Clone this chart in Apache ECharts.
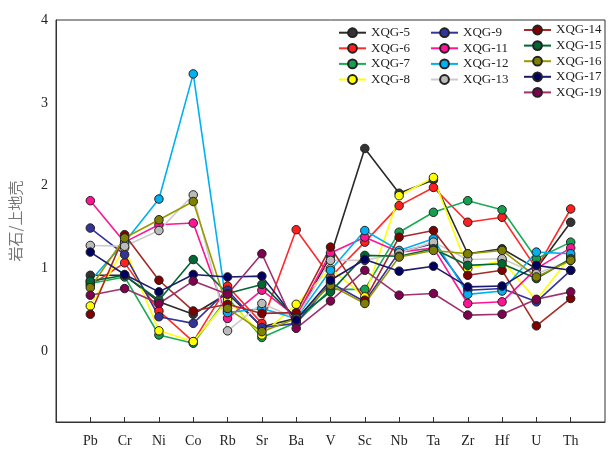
<!DOCTYPE html>
<html><head><meta charset="utf-8">
<script src="https://cdn.jsdelivr.net/npm/echarts@6/dist/echarts.min.js"></script>
<style>html,body{margin:0;padding:0;background:#fff}#c{width:608px;height:451px}</style>
</head><body><div id="c"></div>
<script>
const elements = ['Pb','Cr','Ni','Co','Rb','Sr','Ba','V','Sc','Nb','Ta','Zr','Hf','U','Th'];
const yTicks = [0,1,2,3,4];
const XQG5  = [0.92,0.92,0.60,0.45,0.70,0.30,0.40,1.15,2.45,1.91,2.07,1.18,1.24,1.00,1.56];
const XQG6  = [0.80,1.07,0.49,0.12,0.79,0.34,1.47,0.90,1.32,1.76,1.98,1.56,1.62,1.00,1.72];
const XQG7  = [0.82,0.90,0.20,0.10,0.65,0.17,0.35,0.75,0.75,1.44,1.68,1.82,1.71,1.12,1.32];
const XQG8  = [0.55,1.25,0.25,0.12,0.62,0.20,0.57,1.00,0.66,1.88,2.10,1.00,1.10,0.62,1.15];
const XQG9  = [1.49,1.17,0.42,0.34,0.74,0.29,0.34,0.83,0.60,1.20,1.30,0.74,0.76,0.60,0.98];
const XQG11 = [1.82,1.32,1.53,1.55,0.40,0.74,0.42,1.19,1.38,1.20,1.25,0.58,0.60,1.00,1.25];
const XQG12 = [0.85,1.32,1.84,3.35,0.47,0.52,0.40,0.98,1.46,1.22,1.36,0.69,0.73,1.20,1.18];
const XQG13 = [1.28,1.27,1.46,1.89,0.25,0.58,0.40,1.10,1.10,1.19,1.32,1.11,1.12,0.94,1.10];
const XQG14 = [0.45,1.41,0.86,0.49,0.57,0.46,0.47,1.26,0.62,1.38,1.46,0.92,0.98,0.31,0.64];
const XQG15 = [0.85,0.92,0.62,1.11,0.70,0.81,0.40,0.72,1.16,1.15,1.24,1.04,1.06,0.88,1.12];
const XQG16 = [0.77,1.37,1.59,1.81,0.52,0.24,0.40,0.80,0.58,1.14,1.22,1.18,1.22,0.90,1.10];
const XQG17 = [1.20,0.93,0.72,0.93,0.90,0.91,0.38,0.86,1.11,0.97,1.03,0.78,0.79,1.04,0.98];
const XQG19 = [0.68,0.76,0.58,0.85,0.69,1.18,0.28,0.61,0.98,0.68,0.70,0.44,0.45,0.63,0.72];

const seriesDefs = [
  ['XQG-5', XQG5, '#2a2a2a', '#333333'],
  ['XQG-6', XQG6, '#ff2a2a', '#ff1f1f'],
  ['XQG-7', XQG7, '#1aab55', '#14a050'],
  ['XQG-8', XQG8, '#ffff00', '#ffff00'],
  ['XQG-9', XQG9, '#333399', '#333399'],
  ['XQG-11', XQG11, '#ff1493', '#ff1493'],
  ['XQG-12', XQG12, '#00b0f0', '#00b0f0'],
  ['XQG-13', XQG13, '#cccccc', '#bbbbbb'],
  ['XQG-14', XQG14, '#a52a2a', '#800000'],
  ['XQG-15', XQG15, '#006633', '#006633'],
  ['XQG-16', XQG16, '#999900', '#808000'],
  ['XQG-17', XQG17, '#1a1a6e', '#000060'],
  ['XQG-19', XQG19, '#a0306e', '#800050']
];
const cats = [''].concat(elements, ['']);
const serif = 'Liberation Serif';
const chart = echarts.init(document.getElementById('c'), null, {renderer:'canvas'});
function legendCol(names, left, top){
  return {data:names, orient:'vertical', left:left, top:top, padding:0,
    itemWidth:27, itemHeight:11, itemGap:0.6, selectedMode:false,
    textStyle:{fontFamily:serif, fontSize:13, color:'#222', lineHeight:15}};
}
chart.setOption({
  animation:false,
  backgroundColor:'#fff',
  grid:{left:51, top:20, bottom:29, right:-7, show:true, borderColor:'#333', borderWidth:1},
  legend:[
    legendCol(['XQG-5','XQG-6','XQG-7','XQG-8'], 338, 25.2),
    legendCol(['XQG-9','XQG-11','XQG-12','XQG-13'], 430, 25.2),
    legendCol(['XQG-14','XQG-15','XQG-16','XQG-17','XQG-19'], 523, 22.5)
  ],
  xAxis:{type:'category', data:cats, boundaryGap:false,
    axisLine:{onZero:false, lineStyle:{color:'#333'}},
    axisTick:{inside:true, length:5, lineStyle:{color:'#333'}, interval:(i,v)=>v!==''},
    axisLabel:{fontFamily:serif, fontSize:14, color:'#222', margin:12, interval:0},
    splitLine:{show:false}},
  yAxis:{type:'value', min:-0.85, max:4,
    name:'岩石/上地壳', nameLocation:'middle', nameGap:33, nameRotate:90,
    nameTextStyle:{fontFamily:'Noto Sans CJK SC', fontSize:15, color:'#777'},
    axisLine:{show:true, lineStyle:{color:'#333'}},
    axisTick:{inside:true, length:5, lineStyle:{color:'#333'}, customValues:yTicks},
    axisLabel:{fontFamily:serif, fontSize:14, color:'#222', margin:8, customValues:yTicks},
    splitLine:{show:false}},
  series: seriesDefs.map(d=>({
    name:d[0], type:'line', data:[null].concat(d[1],[null]),
    symbol:'circle', symbolSize:8.5, connectNulls:false,
    lineStyle:{color:d[2], width:1.6},
    itemStyle:{color:d[3], borderColor:'#222', borderWidth:1},
    emphasis:{disabled:true}
  }))
});
</script></body></html>
